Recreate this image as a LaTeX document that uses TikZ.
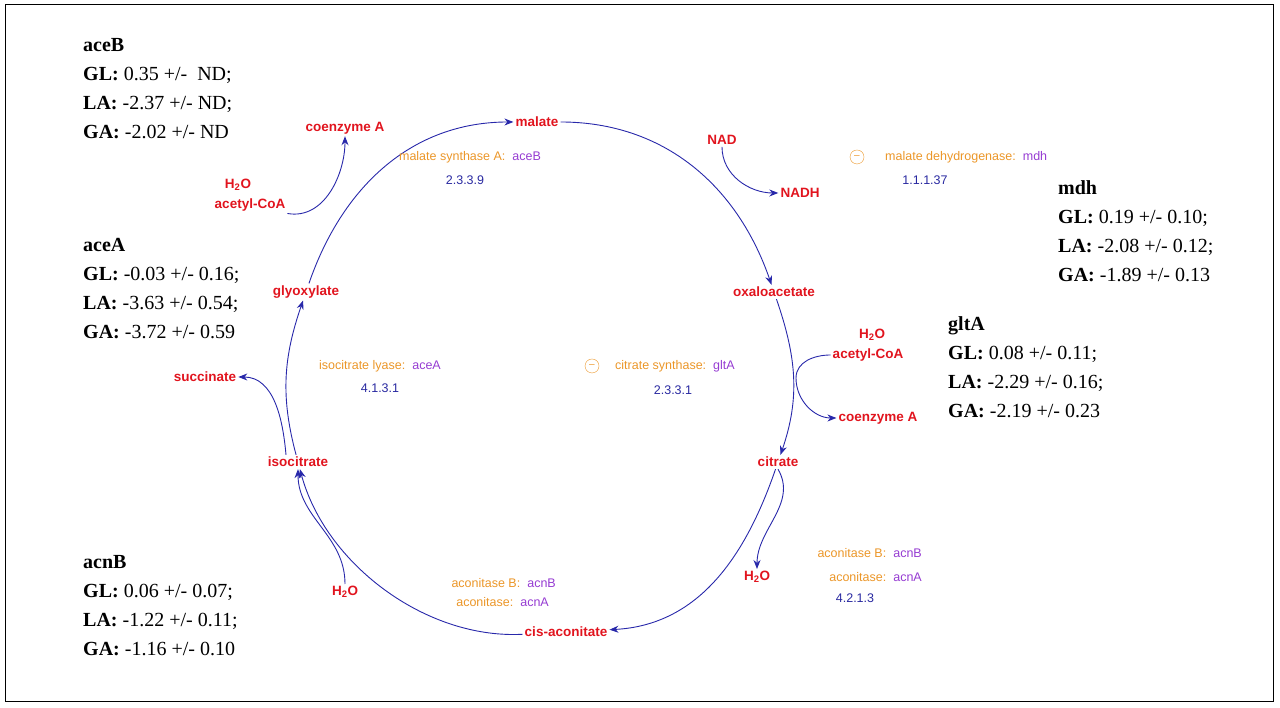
\documentclass[tikz,border=0pt]{standalone}
\usepackage{fontspec}
\setmainfont{Liberation Serif}
\setsansfont{Liberation Sans}
\usetikzlibrary{arrows.meta}
\definecolor{metred}{RGB}{225,20,30}
\definecolor{enzorange}{RGB}{235,150,40}
\definecolor{genepurple}{RGB}{150,60,210}
\definecolor{ecblue}{RGB}{40,40,160}
\definecolor{linkblue}{RGB}{40,40,170}
\tikzset{
  met/.style={text=metred,font=\sffamily\bfseries\fontsize{13.5}{15}\selectfont,inner sep=2pt},
  enz/.style={font=\sffamily\fontsize{12.5}{14}\selectfont,inner sep=1pt},
  ec/.style={text=ecblue,font=\sffamily\fontsize{12.5}{14}\selectfont,inner sep=1pt},
  arr/.style={draw=linkblue,line width=0.9pt,-{Stealth[length=9pt,width=7pt]}},
  link/.style={draw=linkblue,line width=0.9pt},
  datablock/.style={anchor=north west,align=left,inner sep=0pt,font=\fontsize{20}{29}\selectfont},
  inhib/.style={circle,draw=enzorange,text=enzorange,inner sep=0pt,minimum size=14pt,font=\sffamily\fontsize{10}{10}\selectfont}
}
\newcommand{\enzline}[2]{\textcolor{enzorange}{#1}\hspace{7pt}\textcolor{genepurple}{#2}}
\begin{document}
\begin{tikzpicture}[x=1pt,y=1pt]
  \useasboundingbox (0,0) rectangle (1280,708);
  \draw[line width=1pt] (5,6) rectangle (1273,703);

  % metabolites of the cycle
  \node[met] (malate) at (537,586) {malate};
  \node[met] (oxa) at (774,416) {oxaloacetate};
  \node[met] (citrate) at (778,246) {citrate};
  \node[met] (cis) at (566,76) {cis-aconitate};
  \node[met] (iso) at (298,246) {isocitrate};
  \node[met] (glyox) at (306,416) {glyoxylate};

  % side metabolites
  \node[met] (nad) at (722,568) {NAD};
  \node[met] (nadh) at (800,515) {NADH};
  \node[met] (h2oa) at (872,373) {H\textsubscript{2}O};
  \node[met] (accoaa) at (868,353) {acetyl-CoA};
  \node[met] (coaa) at (878,290) {coenzyme A};
  \node[met] (h2ob) at (757,131) {H\textsubscript{2}O};
  \node[met] (h2oc) at (345,116) {H\textsubscript{2}O};
  \node[met] (succ) at (205,331) {succinate};
  \node[met] (h2od) at (238,523) {H\textsubscript{2}O};
  \node[met] (accoab) at (250,503) {acetyl-CoA};
  \node[met] (coab) at (345,580) {coenzyme A};

  % cycle
  \draw[arr] (malate) to[out=0,in=109] (oxa);
  \draw[arr] (oxa) to[out=-71,in=71] (citrate);
  \draw[arr] (citrate) to[out=-109,in=3] (cis);
  \draw[arr] (cis) to[out=183,in=-75,looseness=0.9] (iso);
  \draw[arr] (iso) to[out=105,in=251] (glyox);
  \draw[arr] (glyox) to[out=71,in=180] (malate);

  % side reactions
  \draw[arr] (nad) to[out=-90,in=180] (nadh);
  \coordinate (gltajoin) at (796,330);
  \draw[link] (accoaa.west) to[out=180,in=90] (gltajoin);
  \draw[arr] (gltajoin) to[out=-90,in=180] (coaa);
  \draw[arr] (citrate.south) to[out=-60,in=90] (h2ob);
  \draw[arr] (h2oc) to[out=90,in=-90] (iso);
  \draw[arr] ([xshift=-12pt]iso.north) to[out=95,in=0] (succ);
  \draw[arr] (accoab.south east) to[out=-10,in=-90] (coab);

  % enzymes
  \node[enz] (msyn) at (470,551) {\enzline{malate synthase A:}{aceB}};
  \node[ec] (ecmsyn) at (465,528) {2.3.3.9};
  \node[inhib] (inmdh) at (857,551) {--};
  \node[enz,anchor=west] (mdhenz) at (884,551) {\enzline{malate dehydrogenase:}{mdh}};
  \node[ec] (ecmdh) at (925,528) {1.1.1.37};
  \node[inhib] (ingltA) at (592,342) {--};
  \node[enz,anchor=west] (csyn) at (614,342) {\enzline{citrate synthase:}{gltA}};
  \node[ec] (eccsyn) at (673,318) {2.3.3.1};
  \node[enz] (ilyase) at (380,342) {\enzline{isocitrate lyase:}{aceA}};
  \node[ec] (ecilyase) at (380,320) {4.1.3.1};
  \node[enz,anchor=east] (acnra) at (923,155) {\enzline{aconitase B:}{acnB}};
  \node[enz,anchor=east] (acnrb) at (923,131) {\enzline{aconitase:}{acnA}};
  \node[ec] (ecacn) at (855,110) {4.2.1.3};
  \node[enz,anchor=east] (acnla) at (557,125) {\enzline{aconitase B:}{acnB}};
  \node[enz,anchor=east] (acnlb) at (550,106) {\enzline{aconitase:}{acnA}};

  % expression data
  \node[datablock] (aceBdata) at (83,670) {\textbf{aceB}\\\textbf{GL:} 0.35 +/-~~ND;\\\textbf{LA:} -2.37 +/- ND;\\\textbf{GA:} -2.02 +/- ND};
  \node[datablock] (aceAdata) at (83,470) {\textbf{aceA}\\\textbf{GL:} -0.03 +/- 0.16;\\\textbf{LA:} -3.63 +/- 0.54;\\\textbf{GA:} -3.72 +/- 0.59};
  \node[datablock] (mdhdata) at (1058,528) {\textbf{mdh}\\\textbf{GL:} 0.19 +/- 0.10;\\\textbf{LA:} -2.08 +/- 0.12;\\\textbf{GA:} -1.89 +/- 0.13};
  \node[datablock] (gltAdata) at (948,392) {\textbf{gltA}\\\textbf{GL:} 0.08 +/- 0.11;\\\textbf{LA:} -2.29 +/- 0.16;\\\textbf{GA:} -2.19 +/- 0.23};
  \node[datablock] (acnBdata) at (83,153) {\textbf{acnB}\\\textbf{GL:} 0.06 +/- 0.07;\\\textbf{LA:} -1.22 +/- 0.11;\\\textbf{GA:} -1.16 +/- 0.10};
\end{tikzpicture}
\end{document}
